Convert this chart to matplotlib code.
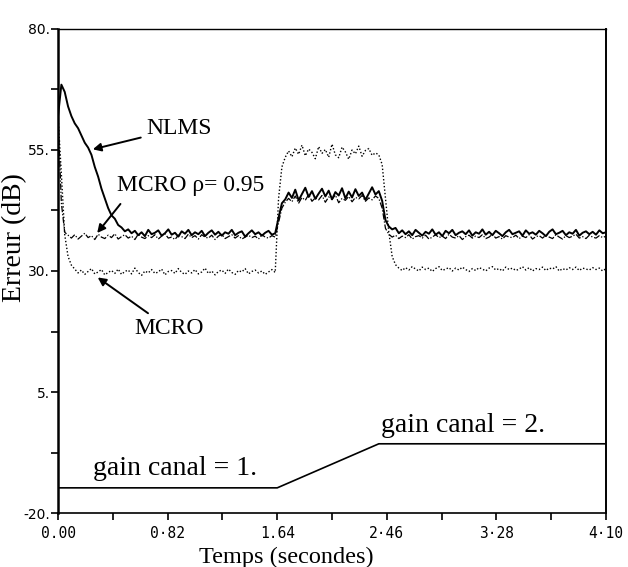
"""Erreur (dB) vs temps : NLMS, MCRO rho=0.95, MCRO, avec changement de gain canal."""

import matplotlib
matplotlib.use('Agg')
import matplotlib.pyplot as plt
import numpy as np

# --- data ---
N_PTS = 165
T_END = 4.10
TIME = np.linspace(0.0, T_END, N_PTS)   # 0.025 s grid

NLMS = [
    62.0, 68.5, 67.0, 64.0, 62.0, 60.5, 59.5, 58.0, 56.5, 55.5,
    54.0, 51.5, 49.5, 47.0, 45.0, 43.0, 41.5, 40.8, 39.5, 39.0,
    38.2, 38.6, 37.8, 38.3, 37.4, 38.0, 37.2, 38.5, 37.6, 37.9,
    38.4, 37.3, 37.8, 38.6, 37.5, 37.9, 37.1, 38.2, 37.7, 38.5,
    37.4, 38.0, 37.6, 38.3, 37.2, 37.9, 38.4, 37.5, 38.1, 37.3,
    38.0, 37.7, 38.5, 37.4, 37.9, 38.2, 37.1, 37.8, 38.4, 37.6,
    38.0, 37.3, 37.9, 38.3, 37.5, 37.8, 41.0, 44.0, 44.8, 46.2,
    45.1, 46.8, 44.6, 45.9, 47.2, 45.3, 46.5, 44.9, 46.0, 47.0,
    45.4, 46.6, 44.8, 46.3, 45.6, 47.1, 45.0, 46.4, 45.2, 46.9,
    45.5, 46.2, 44.7, 46.0, 47.3, 45.8, 46.5, 44.5, 40.5, 39.2,
    38.6, 38.9, 37.8, 38.4, 37.6, 38.2, 37.4, 38.5, 37.9, 37.3,
    38.1, 37.7, 38.6, 37.5, 38.0, 37.2, 38.3, 37.8, 38.5, 37.4,
    37.9, 38.2, 37.6, 38.4, 37.3, 38.0, 37.7, 38.6, 37.5, 38.1,
    37.4, 38.3, 37.8, 37.2, 38.0, 38.5, 37.6, 37.9, 38.2, 37.3,
    38.4, 37.7, 38.0, 37.5, 38.3, 37.8, 37.2, 38.1, 38.6, 37.6,
    37.9, 38.3, 37.4, 38.0, 37.7, 38.5, 37.3, 37.9, 38.2, 37.6,
    38.1, 37.5, 38.4, 37.8, 38.0,
]

MCRO_095 = [
    62.0, 44.0, 38.0, 37.4, 36.8, 37.5, 36.6, 37.2, 37.8, 36.9,
    37.3, 36.5, 37.6, 37.0, 36.7, 37.4, 36.9, 37.7, 36.6, 37.1,
    37.5, 36.8, 37.2, 36.5, 37.6, 37.0, 36.7, 37.3, 36.9, 37.5,
    36.6, 37.2, 37.7, 36.8, 37.0, 36.5, 37.4, 37.1, 36.7, 37.6,
    36.9, 37.3, 36.6, 37.5, 37.0, 36.8, 37.4, 36.5, 37.2, 37.6,
    36.7, 37.1, 37.5, 36.8, 37.3, 36.6, 37.0, 37.4, 36.9, 37.2,
    36.6, 37.5, 37.0, 36.8, 37.3, 37.0, 40.0, 43.0, 44.2, 45.0,
    44.3, 45.5, 44.0, 45.2, 44.6, 45.8, 44.4, 45.1, 44.7, 45.6,
    44.2, 45.3, 44.8, 45.7, 44.1, 45.0, 44.6, 45.4, 44.3, 45.2,
    44.9, 45.6, 44.4, 45.1, 44.7, 45.5, 45.0, 43.0, 38.8, 37.6,
    37.0, 37.4, 36.7, 37.2, 36.9, 37.5, 36.6, 37.1, 37.3, 36.8,
    37.4, 36.6, 37.0, 37.5, 36.9, 37.2, 36.7, 37.6, 37.0, 36.8,
    37.3, 36.5, 37.1, 37.4, 36.8, 37.2, 36.9, 37.5, 36.7, 37.0,
    37.6, 36.8, 37.1, 36.6, 37.3, 37.0, 36.9, 37.4, 36.7, 37.2,
    36.9, 37.5, 36.6, 37.1, 37.3, 36.8, 37.4, 37.0, 36.7, 37.5,
    37.0, 36.6, 37.3, 36.9, 37.2, 37.6, 36.8, 37.1, 36.7, 37.4,
    37.0, 36.8, 37.3, 36.9, 37.2,
]

MCRO = [
    62.0, 50.0, 37.5, 33.0, 31.2, 30.4, 29.6, 30.2, 29.3, 29.9,
    30.5, 29.4, 29.8, 30.3, 29.2, 29.7, 30.1, 29.5, 30.4, 29.3,
    29.9, 30.2, 29.4, 30.6, 29.7, 29.1, 30.0, 29.6, 30.3, 29.5,
    29.8, 30.4, 29.2, 29.9, 30.1, 29.5, 30.5, 29.7, 29.3, 30.0,
    29.6, 30.3, 29.4, 29.8, 30.6, 29.5, 30.0, 29.2, 29.9, 30.2,
    29.5, 30.4, 29.7, 29.3, 30.1, 29.8, 30.5, 29.4, 29.9, 30.2,
    29.6, 30.0, 29.3, 29.8, 30.3, 29.7, 45.0, 51.5, 53.5, 54.8,
    53.6, 55.4, 54.1, 56.0, 53.8, 55.2, 54.5, 53.2, 55.7, 54.3,
    55.1, 53.5, 56.2, 54.0, 53.4, 55.6, 54.6, 53.1, 55.0, 54.2,
    55.8, 53.7, 54.9, 55.3, 53.9, 54.4, 54.0, 52.0, 45.0, 38.0,
    33.0, 31.3, 30.6, 30.1, 30.7, 30.2, 30.9, 30.4, 30.0, 30.8,
    30.3, 30.6, 29.9, 30.5, 30.9, 30.1, 30.4, 30.7, 30.0, 30.6,
    30.2, 30.8, 30.3, 29.9, 30.5, 30.1, 30.7, 30.4, 30.0, 30.6,
    30.9, 30.2, 30.5, 30.0, 30.8, 30.3, 30.6, 30.1, 30.4, 30.9,
    30.2, 30.7, 30.0, 30.5, 30.3, 30.8, 30.1, 30.6, 30.4, 30.9,
    30.0, 30.5, 30.2, 30.7, 30.3, 30.8, 30.1, 30.6, 30.4, 30.2,
    30.7, 30.3, 30.6, 30.0, 30.5,
]

# channel gain profile (drawn in dB units of the same axis)
GAIN_T = [0.0, 1.64, 2.40, 4.10]
GAIN_DB = [-14.8, -14.8, -5.7, -5.7]

Y_TICKS = [80, 55, 30, 5, -20]
Y_TICK_LABELS = ['80.', '55.', '30.', '5.', '-20.']
X_TICKS = [0.0, 0.82, 1.64, 2.46, 3.28, 4.10]
X_TICK_LABELS = ['0.00', '0·82', '1.64', '2·46', '3·28', '4·10']

SERIF = ['Liberation Serif', 'DejaVu Serif']

fig = plt.figure(figsize=(6.28, 5.67), dpi=100)
ax = fig.add_axes([0.0924, 0.0952, 0.8726, 0.8537])

ax.plot(TIME, MCRO, color='black', lw=1.0, linestyle=(0, (1, 1.5)))
ax.plot(TIME, MCRO_095, color='black', lw=0.9, linestyle=(0, (5, 1.5, 1, 1.5)))
ax.plot(TIME, NLMS, color='black', lw=1.4)
ax.plot(GAIN_T, GAIN_DB, color='black', lw=1.2)

ax.set_xlim(0, T_END)
ax.set_ylim(-20, 80)

ax.set_xticks(X_TICKS)
ax.set_xticklabels(X_TICK_LABELS, family='DejaVu Sans Mono', fontsize=10.5)
ax.set_xticks(np.arange(0.41, T_END, 0.82), minor=True)
ax.set_yticks(Y_TICKS)
ax.set_yticklabels(Y_TICK_LABELS, family='DejaVu Sans', fontsize=10)
ax.set_yticks([67.5, 42.5, 17.5, -7.5], minor=True)
ax.tick_params(axis='both', which='both', direction='out', length=5, width=1.2)
ax.tick_params(axis='y', pad=1)
ax.tick_params(axis='x', pad=4)

ax.spines['left'].set_linewidth(1.8)
ax.spines['bottom'].set_linewidth(1.2)
ax.spines['right'].set_linewidth(1.4)
ax.spines['top'].set_linewidth(1.0)

ax.set_xlabel('Temps (secondes)', family=SERIF, fontsize=17.5)
ax.xaxis.set_label_coords(0.416, -0.07)
ax.set_ylabel('Erreur (dB)', family=SERIF, fontsize=20)
ax.yaxis.set_label_coords(-0.056, 0.569)

# annotations
arrow = dict(arrowstyle='-|>', color='black', lw=1.4, mutation_scale=12)
ax.annotate('NLMS', xy=(0.24, 55.0), xytext=(0.66, 59.5), family=SERIF,
            fontsize=17, va='center', ha='left', arrowprops=arrow)
ax.annotate('', xy=(0.28, 37.4), xytext=(0.48, 44.3), arrowprops=arrow)
ax.text(0.44, 47.6, 'MCRO ρ= 0.95', family=SERIF, fontsize=17, va='center', ha='left')
ax.annotate('MCRO', xy=(0.28, 29.0), xytext=(0.57, 18.2), family=SERIF,
            fontsize=17, va='center', ha='left', arrowprops=arrow)
ax.text(0.26, -10.9, 'gain canal = 1.', family=SERIF, fontsize=20, va='center', ha='left')
ax.text(2.42, -2.0, 'gain canal = 2.', family=SERIF, fontsize=20, va='center', ha='left')

fig.savefig('out.png', dpi=100)
plt.close(fig)
